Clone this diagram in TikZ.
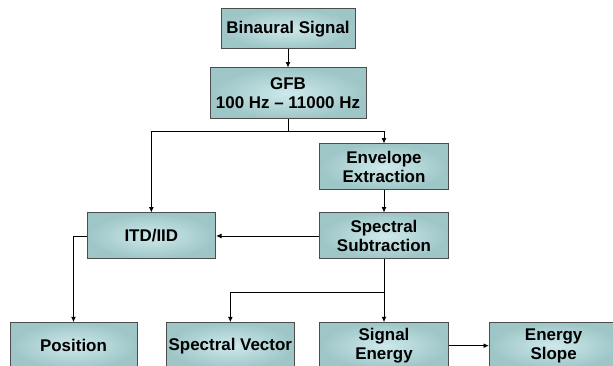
\documentclass[tikz,border=0pt]{standalone}
\usepackage{fontspec}
\setmainfont{Liberation Sans}
\usepackage{xcolor}
\usetikzlibrary{positioning, arrows.meta}

\definecolor{boxout}{RGB}{158,198,199}
\definecolor{boxin}{RGB}{206,233,235}

\begin{document}
\begin{tikzpicture}[
      x=0.75pt, y=-0.75pt,
      node distance=16.5pt and 18pt,
      box/.style={draw=black!70, line width=0.75pt, inner color=boxin, outer color=boxout,
                  align=center, inner sep=0pt, minimum width=96.5pt, minimum height=34.5pt,
                  font=\fontsize{12.7}{14.5}\selectfont\bfseries},
      arr/.style={-{Latex[length=4pt,width=3.6pt]}, line width=0.6pt}
    ]
    \clip (0,0) rectangle (613,366);

    \node[box, minimum width=100.5pt, minimum height=30pt] (bin) at (288,29) {Binaural Signal};
    \node[box, minimum width=117pt, minimum height=38.25pt, below=13.5pt of bin] (gfb) {GFB\\100 Hz -- 11000 Hz};

    \node[box] (env) at (384,167) {Envelope\\Extraction};
    \node[box, below=of env] (spec) {Spectral\\Subtraction};
    \node[box, left=77.25pt of spec] (itd) {ITD/IID};

    \node[box, below=47pt of spec] (sige) {Signal\\Energy};
    \node[box, right=30pt of sige] (slope) {Energy\\Slope};
    \node[box, left=of sige] (vec) {Spectral Vector};
    \node[box, left=21pt of vec, minimum width=95.25pt] (pos) {Position};

    \draw[arr] (bin) -- (gfb);
    \draw[arr] (gfb.south) -- ++(0,-9pt) -| (env.north);
    \draw[arr] (gfb.south) -- ++(0,-9pt) -| (itd.north);
    \draw[arr] (env) -- (spec);
    \draw[arr] (spec) -- (itd);
    \draw[arr] (itd.west) -- (itd.west -| pos.north) -- (pos.north);
    \draw[arr] (spec.south) -- ++(0,-24.75pt) -| (vec.north);
    \draw[arr] (spec.south) -- (sige.north);
    \draw[arr] (sige) -- (slope);
  \end{tikzpicture}
\end{document}
